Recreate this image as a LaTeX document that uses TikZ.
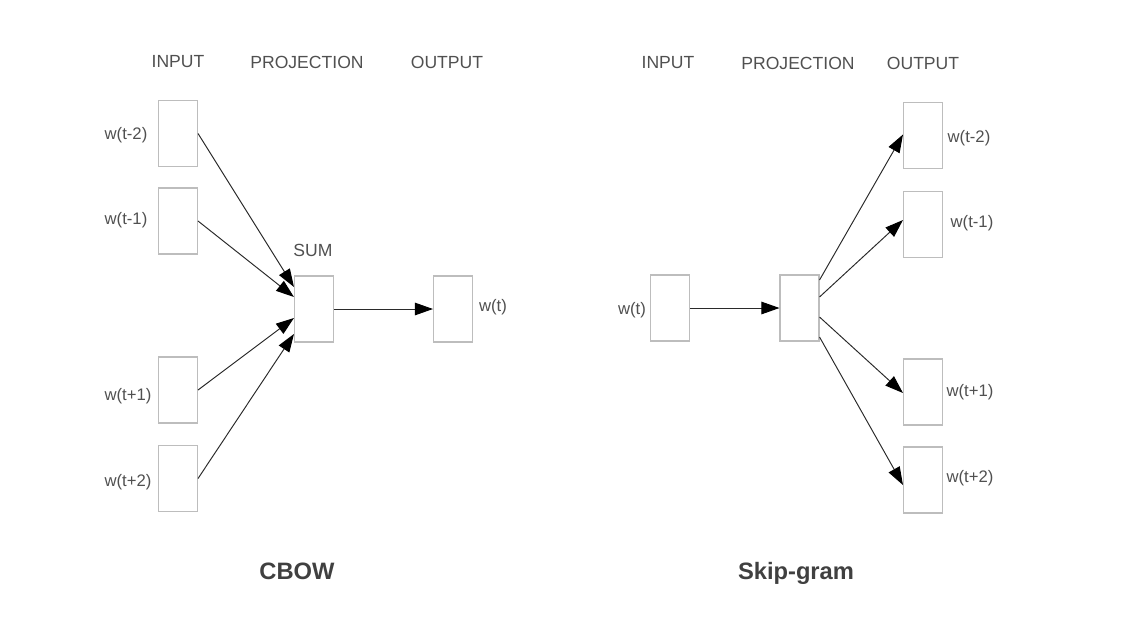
\documentclass[tikz,border=0pt]{standalone}
\usepackage{fontspec}
\setmainfont{Liberation Sans}
\usepackage{tikz}
\usetikzlibrary{arrows.meta}

\definecolor{boxgray}{HTML}{BDBDBD}
\definecolor{txtgray}{HTML}{505050}
\definecolor{linegray}{HTML}{2A2A2A}

\begin{document}
\begin{tikzpicture}[x=0.02cm, y=-0.02cm]
	\tikzstyle{vec} = [draw=boxgray, line width=0.6pt, rectangle, minimum width=0.78cm, minimum height=1.32cm, inner sep=0pt]
	\tikzstyle{lbl} = [text=txtgray, font=\fontsize{9.5}{11}\selectfont, inner sep=0pt]
	\tikzstyle{head} = [text=txtgray, font=\fontsize{10}{12}\selectfont, inner sep=0pt]
	\tikzstyle{title} = [text=txtgray!80!black, font=\fontsize{13.5}{16}\selectfont\bfseries, inner sep=0pt, anchor=base]
	\tikzstyle{arr} = [draw=linegray, line width=0.55pt, -{Triangle[length=3.6mm,width=2.5mm,color=black]}]
	\useasboundingbox (0,0) rectangle (1136,629);
	% CBOW
	\node[head] (cIn) at (178, 62) {INPUT};
	\node[head] (cProj) at (307, 62) {PROJECTION};
	\node[head] (cOut) at (447, 62) {OUTPUT};
	\node[vec] (cW2m) at (178, 133.5) {};
	\node[vec] (cW1m) at (178, 221) {};
	\node[vec] (cW1p) at (178, 390) {};
	\node[vec] (cW2p) at (178, 478.5) {};
	\node[vec] (cSum) at (314, 309) {};
	\node[vec] (cWt) at (453, 309) {};
	\node[lbl] (lW2m) at (126, 135) {w(t-2)};
	\node[lbl] (lW1m) at (126, 220) {w(t-1)};
	\node[lbl] (lW1p) at (128, 396) {w(t+1)};
	\node[lbl] (lW2p) at (128, 482) {w(t+2)};
	\node[lbl] (lWt) at (493, 307) {w(t)};
	\node[head] (cSumL) at (313, 250) {SUM};
	\node[title] (cbow) at (297, 579) {CBOW};
	\draw[arr] (cW2m.east) -- ([yshift=0.44cm]cSum.west);
	\draw[arr] (cW1m.east) -- ([yshift=0.24cm]cSum.west);
	\draw[arr] (cW1p.east) -- ([yshift=-0.18cm]cSum.west);
	\draw[arr] (cW2p.east) -- ([yshift=-0.5cm]cSum.west);
	\draw[arr] (cSum.east) -- (cWt.west);
	% Skip-gram
	\node[head] (sIn) at (668, 63) {INPUT};
	\node[head] (sProj) at (798, 63) {PROJECTION};
	\node[head] (sOut) at (923, 63) {OUTPUT};
	\node[vec] (sWt) at (670, 308) {};
	\node[vec] (sProjB) at (799.5, 308) {};
	\node[vec] (sW2m) at (923, 135.5) {};
	\node[vec] (sW1m) at (923, 224.5) {};
	\node[vec] (sW1p) at (923, 392) {};
	\node[vec] (sW2p) at (923, 480) {};
	\node[lbl] (mWt) at (632, 310) {w(t)};
	\node[lbl] (mW2m) at (969, 138) {w(t-2)};
	\node[lbl] (mW1m) at (972, 223) {w(t-1)};
	\node[lbl] (mW1p) at (970, 392) {w(t+1)};
	\node[lbl] (mW2p) at (970, 478) {w(t+2)};
	\node[title] (skip) at (796, 579) {Skip-gram};
	\draw[arr] (sWt.east) -- (sProjB.west);
	\draw[arr] ([yshift=0.56cm]sProjB.east) -- ([yshift=0.02cm]sW2m.west);
	\draw[arr] ([yshift=0.22cm]sProjB.east) -- ([yshift=0.09cm]sW1m.west);
	\draw[arr] ([yshift=-0.18cm]sProjB.east) -- ([yshift=-0.02cm]sW1p.west);
	\draw[arr] ([yshift=-0.58cm]sProjB.east) -- ([yshift=-0.1cm]sW2p.west);
\end{tikzpicture}
\end{document}
